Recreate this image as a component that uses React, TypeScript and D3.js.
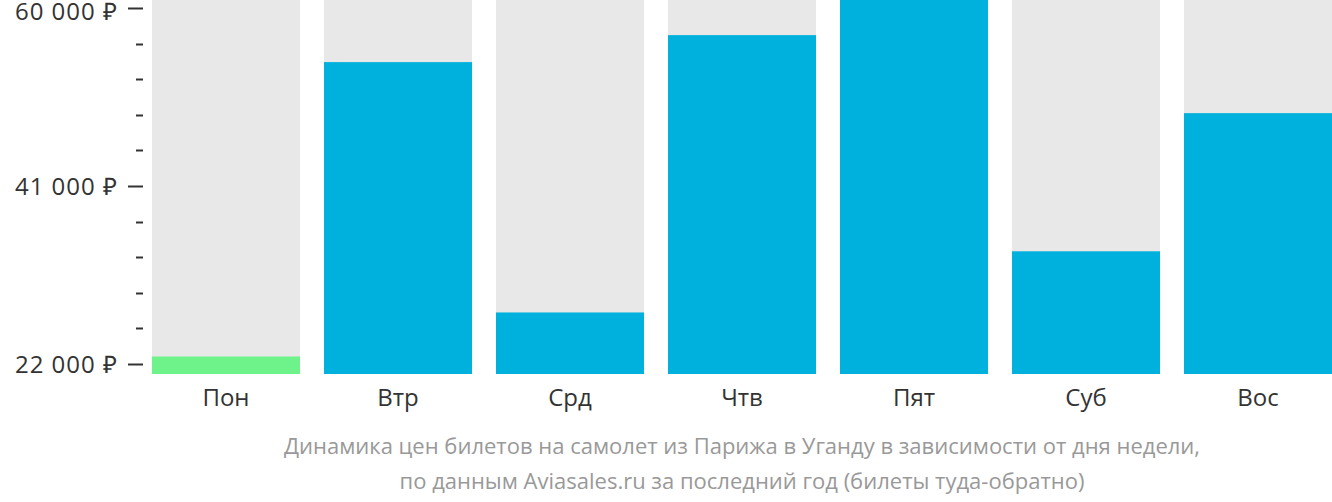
import React from "react";
import * as d3 from "d3";

const days = ["Пон", "Втр", "Срд", "Чтв", "Пят", "Суб", "Вос"];
const prices = [22800, 54230, 27500, 57110, 60860, 34030, 48780];
const cheapestIndex = 0;
const tickValues = [22000, 25800, 29600, 33400, 37200, 41000, 44800, 48600, 52400, 56200, 60000];
const labeledTicks = [22000, 41000, 60000];
const captionLines = [
  "Динамика цен билетов на самолет из Парижа в Уганду в зависимости от дня недели,",
  "по данным Aviasales.ru за последний год (билеты туда-обратно)",
];

const W = 1332;
const H = 502;
const plotLeft = 152;
const plotRight = 1332;
const plotTop = 0;
const plotBottom = 374;
const yMin = 20930;
const yMax = 60860;

const fmt = (v: number) => d3.format(",")(v).replace(/,/g, " ") + " ₽";

export default function App() {
  const x = d3.scaleBand<string>().domain(days).range([plotLeft, plotRight]).paddingInner(24 / 172).paddingOuter(0);
  const y = d3.scaleLinear().domain([yMin, yMax]).range([plotBottom, plotTop]);
  const font = "'Open Sans', sans-serif";
  return (
    <svg width={W} height={H} style={{ position: "absolute", left: 0, top: 0, display: "block" }} fontFamily={font}>
      {days.map((d, i) => (
        <g key={d}>
          <rect x={x(d)} y={plotTop} width={x.bandwidth()} height={plotBottom - plotTop} fill="#e8e8e8" />
          <rect
            x={x(d)}
            y={y(prices[i])}
            width={x.bandwidth()}
            height={plotBottom - y(prices[i])}
            fill={i === cheapestIndex ? "#6ef28a" : "#00b1dd"}
          />
          <text x={(x(d) as number) + x.bandwidth() / 2} y={406} textAnchor="middle" fontSize={24} fill="#333">
            {d}
          </text>
        </g>
      ))}
      {tickValues.map((t) => {
        const major = labeledTicks.includes(t);
        const yy = Math.round(y(t)) + 0.5;
        return (
          <g key={t}>
            <line x1={major ? 128 : 136} x2={143} y1={yy} y2={yy} stroke="#333" strokeWidth={2} />
            {major && (
              <text
                x={118}
                y={Math.max(yy + 8.5, 20)}
                textAnchor="end"
                fontSize={24}
                letterSpacing={1}
                fill="#333"
              >
                {fmt(t)}
              </text>
            )}
          </g>
        );
      })}
      {captionLines.map((l, i) => (
        <text key={i} x={(plotLeft + plotRight) / 2} y={454 + i * 35} textAnchor="middle" fontSize={22} fill="#999">
          {l}
        </text>
      ))}
    </svg>
  );
}
